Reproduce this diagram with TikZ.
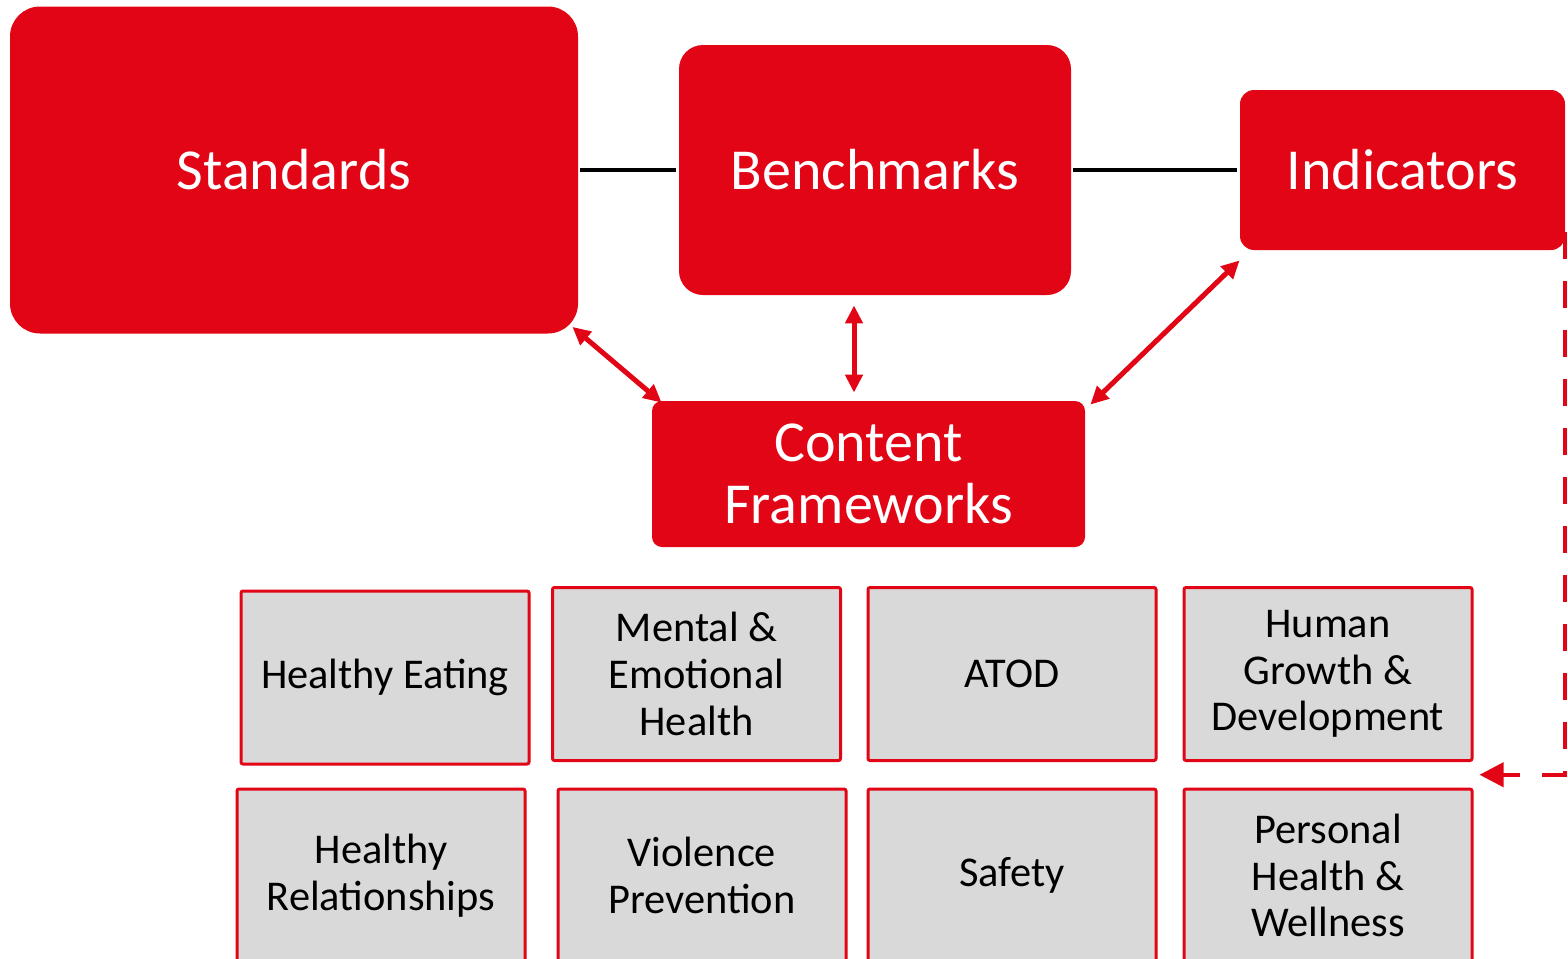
\documentclass[tikz,border=0pt]{standalone}
\usepackage{fontspec}
\setmainfont{Carlito}
\usetikzlibrary{arrows.meta, positioning, calc}
\definecolor{boxred}{HTML}{E10516}
\definecolor{boxgray}{HTML}{D9D9D9}

\tikzset{
  bigbox/.style={fill=boxred, text=white, align=center, inner sep=0pt,
    font=\fontsize{29}{31}\selectfont},
  topic/.style={draw=boxred, fill=boxgray, line width=1.5pt, rounded corners=1pt,
    minimum width=144pt, minimum height=86.5pt, inner sep=0pt, align=center,
    font=\fontsize{21.2}{23.3}\selectfont},
  link/.style={black, line width=2pt, shorten <=1pt, shorten >=1.5pt},
  dbl/.style={boxred, line width=2.5pt, {Triangle[length=9pt,width=8.5pt]}-{Triangle[length=9pt,width=8.5pt]}},
}

\begin{document}
\begin{tikzpicture}[x=0.5pt, y=-0.5pt]
  \useasboundingbox (0,0) rectangle (1568,958);

  % Hlavní bloky
  \node[bigbox, rounded corners=15pt, minimum width=284pt, minimum height=163.5pt] (std) at (294,170) {Standards};
  \node[bigbox, rounded corners=12pt, minimum width=196pt, minimum height=125pt] (bm) at (875,170) {Benchmarks};
  \node[bigbox, rounded corners=7pt, minimum width=162.5pt, minimum height=80pt] (ind) at (1402.5,170) {Indicators};
  \node[bigbox, rounded corners=5pt, minimum width=216.5pt, minimum height=73pt] (cf) at (868.5,474) {Content\\Frameworks};

  \draw[link] (std.east) -- (bm.west);
  \draw[link] (bm.east) -- (ind.west);

  % Obousměrné šipky
  \draw[dbl] ($(std.south east)+(-6,-7)$) -- ($(cf.north west)+(10,2)$);
  \draw[dbl] ($(bm.south)+(-21,10)$) -- ($(cf.north)+(-14.5,-8)$);
  \draw[dbl] ($(ind.south west)+(0,10)$) -- ($(cf.north east)+(5,4)$);

  % Témata
  \node[topic] (g1) at (385,677.5) {Healthy Eating};
  \node[topic] (g2) at (696.5,674) {Mental \&\\Emotional\\Health};
  \node[topic] (g3) at (1012,674) {ATOD};
  \node[topic] (g4) at (1328,674) {Human\\Growth \&\\Development};
  \node[topic] (g5) at (381,875.5) {Healthy\\Relationships};
  \node[topic] (g6) at (702,875.5) {Violence\\Prevention};
  \node[topic] (g7) at (1012,875.5) {Safety};
  \node[topic] (g8) at (1328,875.5) {Personal\\Health \&\\Wellness};

  % Čárkovaná spojnice
  \coordinate (tip) at ($(g4.south east)!0.5!(g8.north east)+(6,0)$);
  \draw[boxred, line width=2pt, dash pattern=on 13.5pt off 11pt, -{Triangle[length=12pt,width=12pt]}]
    ($(ind.south east)+(0,-18)$) |- (tip);
\end{tikzpicture}
\end{document}
